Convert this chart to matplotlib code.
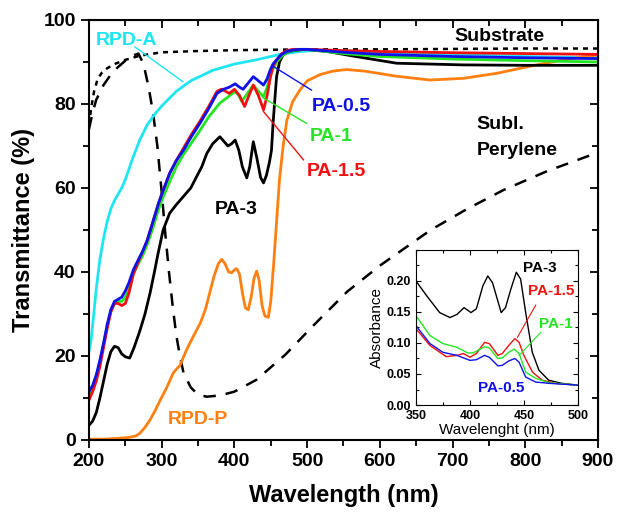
import matplotlib
matplotlib.use("Agg")
import matplotlib.pyplot as plt
from matplotlib.ticker import MultipleLocator

plt.rcParams['font.family'] = ['Liberation Sans', 'DejaVu Sans']

# ---------------- main data ----------------
wl_sub = [200, 203, 207, 212, 218, 225, 235, 250, 270, 300, 350, 400, 500, 600, 700, 800, 900]
T_sub = [75, 79, 83, 86, 87.5, 88.5, 89.5, 90.5, 91.5, 92.3, 92.6, 92.8, 93, 93, 93.1, 93.2, 93.2]

wl_per = [200, 205, 210, 220, 230, 240, 250, 260, 268, 275, 282, 288, 294, 300, 305, 310, 315, 320,
          325, 330, 340, 350, 362, 380, 400, 430, 470, 510, 555, 600, 670, 720, 770, 830, 885, 900]
T_per = [74, 78, 81, 84.5, 87, 88.8, 90.3, 91.5, 92, 89.5, 84, 78, 70, 59, 49, 40, 32, 25,
         20, 16, 12.5, 10.8, 10.3, 10.6, 11.5, 14.3, 20.3, 27.5, 35.3, 41.5, 50, 55, 59.5, 64, 67.5, 68.5]

wl_a = [200, 203, 206, 210, 215, 220, 225, 230, 235, 240, 245, 250, 260, 270, 280, 290, 300, 320,
        340, 370, 400, 430, 460, 490, 520, 600, 700, 800, 900]
T_a = [21, 24, 29, 36, 43, 48, 52, 55, 57, 58.5, 60, 62, 67, 71.5, 75, 77.5, 79.5, 83,
       85.5, 88, 89.5, 90.5, 91.7, 92.5, 92.8, 92.3, 91.8, 91.3, 91]

wl_b = [200, 205, 210, 215, 220, 225, 230, 235, 240, 245, 250, 255, 261, 268, 274, 280, 288, 295,
        300, 311, 320, 330, 340, 353, 365, 376, 385, 393, 401, 407, 412, 419, 426, 433, 440, 445,
        449, 453, 458, 465, 472, 480, 490, 500, 550, 600, 700, 800, 900]
T_b = [11.5, 13, 15.5, 19, 23, 27.5, 31, 33, 33.5, 34, 35.5, 37.5, 40.5, 43, 45, 47.5, 52, 56,
       58.5, 63.5, 66.5, 69, 72, 75.5, 79, 82.5, 83.5, 84, 84.8, 84, 83.5, 85, 86.5, 85.5, 84.5, 86,
       88, 89.5, 90.5, 91.8, 92.5, 92.8, 93, 93, 92.3, 91.8, 91.3, 91, 90.8]

wl_r = [200, 205, 210, 215, 220, 225, 230, 235, 240, 245, 250, 255, 261, 268, 274, 280, 288, 295,
        300, 311, 320, 330, 340, 353, 365, 376, 382, 388, 393, 400, 407, 414, 420, 426, 433, 440,
        445, 449, 453, 458, 465, 472, 480, 490, 500, 550, 600, 700, 800, 900]
T_r = [9.5, 11.5, 14, 17.5, 22, 26.5, 30.5, 32.5, 32.5, 32, 32.5, 35, 39.5, 42.5, 45, 47.5, 52, 56,
       58.5, 63.5, 66.5, 69.5, 72.5, 76, 79.5, 83, 83.5, 83, 82.5, 83.5, 82, 79.4, 82, 84.5, 82, 78.6,
       82, 86, 89, 90.5, 92, 92.7, 93, 93, 93, 92.7, 92.5, 92.2, 92, 91.8]

wl_g = [200, 205, 210, 215, 220, 225, 230, 235, 240, 245, 250, 255, 261, 268, 274, 280, 288, 295,
        300, 311, 320, 330, 340, 353, 365, 380, 390, 401, 406, 410, 418, 426, 433, 440, 445, 449,
        453, 458, 467, 475, 485, 500, 550, 600, 700, 800, 900]
T_g = [10.5, 12.5, 15, 18.5, 23, 27, 30.5, 32.5, 33, 33, 34, 36, 39.5, 42, 44, 46.5, 50.5, 54.5,
       57, 61.5, 65, 68, 70.5, 73.8, 77, 80.2, 81.5, 83, 82, 80.6, 82.5, 84.5, 83, 81.7, 84, 86.5,
       88.3, 90, 91.7, 92.5, 92.8, 93, 92, 91.3, 90.7, 90.3, 90]

wl_k = [200, 205, 210, 215, 220, 225, 230, 235, 240, 245, 250, 256, 262, 270, 277, 284, 290, 295,
        302, 311, 320, 330, 340, 348, 355, 362, 370, 380, 386, 391, 396, 401, 406, 411, 417, 421,
        426, 431, 436, 440, 444, 448, 451, 453, 456, 458, 462, 467, 475, 490, 500, 531, 560, 623,
        715, 800, 900]
T_k = [3.5, 4.5, 6.5, 10, 14, 18, 21, 22.3, 22, 20.5, 19.8, 19.5, 22, 26, 30, 35, 40, 44.4,
       50, 54, 56, 58, 60, 62.7, 65, 68.2, 70.5, 72.2, 71, 70, 70.5, 71.4, 69, 65, 62.4, 65,
       71, 67, 62.5, 61.2, 63, 66, 69, 75, 82, 86.5, 90, 91.7, 92.5, 92.9, 93, 92.4, 91.5, 89.7,
       89.3, 89.2, 89.2]

wl_o = [200, 220, 240, 255, 265, 270, 277, 284, 291, 298, 307, 316, 321, 325, 334, 343, 353, 360,
        366, 372, 378, 382.5, 387, 392, 396, 400, 403, 407, 411, 415, 419, 423, 427, 430.6, 434,
        438, 442, 446.6, 450, 454, 458, 462, 467, 472, 480, 490, 500, 518, 535, 554, 580, 623, 669,
        715, 761, 807, 852, 900]
T_o = [0.2, 0.2, 0.4, 0.6, 1, 1.6, 3, 4.8, 7, 9.5, 12.5, 16, 17, 17.7, 21.4, 24.5, 27.8, 31,
       35, 39, 42, 43, 42, 40, 39.8, 40.5, 40.8, 39.5, 35, 31.5, 31, 34, 38.5, 40.2, 38,
       32, 29.5, 29.2, 33, 42, 52, 62, 70, 76, 80.5, 83.3, 85.5, 87, 87.8, 88.2, 87.8, 86.6, 85.7,
       86.1, 87.3, 89, 90.5, 91.7]

# ---------------- inset data ----------------
iwl_k = [350, 360, 372, 381.5, 388, 394.6, 401, 406, 412, 416.6, 421, 429, 433, 438, 443, 447,
         451.7, 457.8, 464, 473, 485, 500]
iA_k = [0.200, 0.176, 0.149, 0.141, 0.146, 0.157, 0.149, 0.155, 0.192, 0.208, 0.197, 0.149, 0.157,
        0.187, 0.214, 0.203, 0.149, 0.085, 0.056, 0.040, 0.035, 0.032]
iwl_r = [350, 363, 378, 388, 394, 400, 406, 413.6, 418, 426, 430, 436, 441.7, 445.6, 450, 458,
         467, 479, 500]
iA_r = [0.123, 0.096, 0.078, 0.080, 0.083, 0.077, 0.083, 0.101, 0.099, 0.080, 0.083, 0.096, 0.107,
        0.101, 0.080, 0.053, 0.040, 0.035, 0.032]
iwl_g = [350, 363, 375, 388, 398, 403, 413.6, 418, 426, 430, 436, 441, 445.6, 451.7, 461, 473, 500]
iA_g = [0.144, 0.112, 0.099, 0.093, 0.084, 0.084, 0.094, 0.092, 0.075, 0.076, 0.085, 0.090, 0.083,
        0.053, 0.043, 0.036, 0.032]
iwl_b = [350, 363, 375, 388, 400, 406, 413.6, 418, 426, 430, 436, 441.7, 445.6, 451.7, 461, 473, 500]
iA_b = [0.128, 0.099, 0.085, 0.080, 0.072, 0.073, 0.080, 0.077, 0.063, 0.064, 0.071, 0.075, 0.069,
        0.045, 0.037, 0.035, 0.032]

CYAN = '#1de6f0'
BLUE = '#1010e8'
GREEN = '#22e622'
RED = '#f01010'
ORANGE = '#ff8010'

fig = plt.figure(figsize=(6.18, 5.17), dpi=100)
ax = fig.add_axes([0.144, 0.149, 0.8236, 0.8124])

lw = 2.0
ax.plot(wl_sub, T_sub, color='black', lw=1.8, ls=(0, (2, 2)))
ax.plot(wl_per, T_per, color='black', lw=1.8, ls=(0, (5, 4)))
ax.plot(wl_a, T_a, color=CYAN, lw=lw)
ax.plot(wl_o, T_o, color=ORANGE, lw=lw)
ax.plot(wl_k, T_k, color='black', lw=lw)
ax.plot(wl_g, T_g, color=GREEN, lw=lw)
ax.plot(wl_r, T_r, color=RED, lw=lw)
ax.plot(wl_b, T_b, color=BLUE, lw=lw)

ax.set_xlim(200, 900)
ax.set_ylim(0, 100)
ax.xaxis.set_major_locator(MultipleLocator(100))
ax.xaxis.set_minor_locator(MultipleLocator(50))
ax.yaxis.set_major_locator(MultipleLocator(20))
ax.yaxis.set_minor_locator(MultipleLocator(10))
ax.tick_params(which='major', direction='out', length=6, width=1.3, labelsize=14)
ax.tick_params(which='minor', direction='out', length=4, width=1.3)
for lab in ax.get_xticklabels() + ax.get_yticklabels():
    lab.set_fontweight('bold')
for s in ax.spines.values():
    s.set_linewidth(1.5)

secx = ax.secondary_xaxis('top')
secx.xaxis.set_major_locator(MultipleLocator(100))
secx.xaxis.set_minor_locator(MultipleLocator(50))
secx.tick_params(which='major', direction='in', length=6, width=1.3, labeltop=False)
secx.tick_params(which='minor', direction='in', length=4, width=1.3)
secy = ax.secondary_yaxis('right')
secy.yaxis.set_major_locator(MultipleLocator(20))
secy.yaxis.set_minor_locator(MultipleLocator(10))
secy.tick_params(which='major', direction='in', length=6, width=1.3, labelright=False)
secy.tick_params(which='minor', direction='in', length=4, width=1.3)

ax.set_xlabel('Wavelength (nm)', fontsize=17, fontweight='bold', va='center')
ax.set_ylabel('Transmittance (%)', fontsize=17, fontweight='bold', va='center')
ax.xaxis.set_label_coords(0.5, -0.133)
ax.yaxis.set_label_coords(-0.128, 0.5)

tkw = dict(fontsize=14, fontweight='bold', va='center', ha='left')
ax.text(209, 95.2, 'RPD-A', color=CYAN, **tkw)
ax.plot([263, 329], [93.6, 85.3], color=CYAN, lw=1)
ax.text(703, 96, 'Substrate', color='black', **tkw)
ax.text(506, 79.4, 'PA-0.5', color=BLUE, **tkw)
ax.plot([453, 506], [89, 83.3], color=BLUE, lw=1)
ax.text(504, 72.2, 'PA-1', color=GREEN, **tkw)
ax.plot([440, 499], [81.4, 75.4], color=GREEN, lw=1)
ax.text(499.5, 63.9, 'PA-1.5', color=RED, **tkw)
ax.plot([440, 495], [78.2, 66.7], color=RED, lw=1)
ax.text(373, 54.8, 'PA-3', color='black', **tkw)
ax.text(733, 75, 'Subl.', color='black', **tkw)
ax.text(733, 69, 'Perylene', color='black', **tkw)
ax.text(309, 4.8, 'RPD-P', color=ORANGE, **tkw)

# ---------------- inset ----------------
ins = fig.add_axes([0.673, 0.2166, 0.262, 0.300])
ins.plot(iwl_k, iA_k, color='black', lw=1)
ins.plot(iwl_r, iA_r, color=RED, lw=1)
ins.plot(iwl_g, iA_g, color=GREEN, lw=1)
ins.plot(iwl_b, iA_b, color=BLUE, lw=1)
ins.set_xlim(350, 500)
ins.set_ylim(0, 0.25)
ins.xaxis.set_major_locator(MultipleLocator(50))
ins.xaxis.set_minor_locator(MultipleLocator(25))
ins.yaxis.set_major_locator(MultipleLocator(0.05))
ins.yaxis.set_minor_locator(MultipleLocator(0.025))
ins.set_yticks([0, 0.05, 0.10, 0.15, 0.20])
ins.set_yticklabels(['0.00', '0.05', '0.10', '0.15', '0.20'])
ins.tick_params(which='both', direction='in', top=True, right=True, labelsize=9, width=0.8)
ins.tick_params(which='major', length=3.5)
ins.tick_params(which='minor', length=2)
for lab in ins.get_xticklabels() + ins.get_yticklabels():
    lab.set_fontweight('bold')
for s in ins.spines.values():
    s.set_linewidth(0.8)
ins.set_xlabel('Wavelenght (nm)', fontsize=11, labelpad=1)
ins.set_ylabel('Absorbance', fontsize=11, labelpad=2)

ikw = dict(fontsize=11, fontweight='bold', va='center', ha='left')
ins.text(449.6, 0.221, 'PA-3', color='black', **ikw)
ins.text(454, 0.184, 'PA-1.5', color=RED, **ikw)
ins.plot([461, 444], [0.161, 0.109], color=RED, lw=0.8)
ins.text(464, 0.131, 'PA-1', color=GREEN, **ikw)
ins.plot([465.6, 445.6], [0.117, 0.080], color=GREEN, lw=0.8)
ins.text(407.4, 0.027, 'PA-0.5', color=BLUE, **ikw)

fig.savefig('out.png', dpi=100)
